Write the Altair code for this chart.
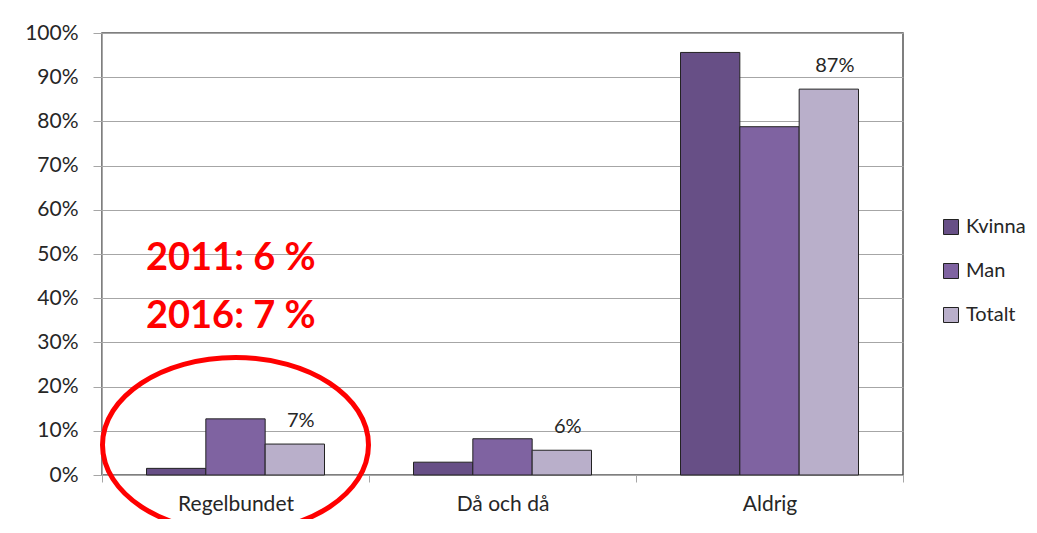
import altair as alt
import pandas as pd

categories = ["Regelbundet", "Då och då", "Aldrig"]
series = ["Kvinna", "Man", "Totalt"]
kvinna = [0.015, 0.029, 0.956]
man = [0.127, 0.082, 0.788]
totalt = [0.070, 0.056, 0.873]
colors = ["#674F86", "#7F63A1", "#B9AFCA"]
y_ticks = [0, 0.1, 0.2, 0.3, 0.4, 0.5, 0.6, 0.7, 0.8, 0.9, 1.0]

note_texts = ["2011: 6 %", "2016: 7 %"]
note_y = [0.463, 0.332]
circle_cat = ["Regelbundet"]
circle_y = [0.068]

rows = []
for s, vals in zip(series, [kvinna, man, totalt]):
    for c, v in zip(categories, vals):
        rows.append({"cat": c, "series": s, "value": v})
df = pd.DataFrame(rows)
notes = pd.DataFrame({"cat": ["Regelbundet"] * len(note_texts), "text": note_texts, "value": note_y})
circ = pd.DataFrame({"cat": circle_cat, "value": circle_y})

x_enc = alt.X("cat:N", sort=categories, title=None,
              scale=alt.Scale(paddingInner=0, paddingOuter=0),
              axis=alt.Axis(labelAngle=0, tickBand="extent", tickSize=7,
                            domainColor="#a6a6a6", tickColor="#a6a6a6",
                            labelFontSize=21, labelColor="#262626", labelPadding=11))
xo_enc = alt.XOffset("series:N", sort=series, scale=alt.Scale(paddingInner=0, paddingOuter=0.75))
y_enc = alt.Y("value:Q", title=None, scale=alt.Scale(domain=[0, 1], nice=False),
              axis=alt.Axis(values=y_ticks, format=".0%", grid=True, gridColor="#a6a6a6",
                            domainColor="#a6a6a6", tickColor="#a6a6a6", tickSize=9,
                            labelFontSize=21, labelColor="#262626", labelPadding=15))

bars = alt.Chart(df).mark_bar(stroke="#222222", strokeWidth=1).encode(
    x=x_enc, xOffset=xo_enc, y=y_enc,
    color=alt.Color("series:N", sort=series, title=None,
                    scale=alt.Scale(domain=series, range=colors),
                    legend=alt.Legend(orient="none", legendX=839, legendY=184,
                                      symbolType="square", symbolSize=225,
                                      symbolStrokeColor="#222222", symbolStrokeWidth=1,
                                      labelFontSize=20, labelColor="#262626",
                                      labelOffset=5, rowPadding=24)),
)

labels = alt.Chart(df).transform_filter(alt.datum.series == "Totalt").mark_text(
    baseline="alphabetic", dx=6, dy=-17, fontSize=20, color="#262626"
).encode(x=x_enc, xOffset=xo_enc, y=y_enc, text=alt.Text("value:Q", format=".0%"))

note = alt.Chart(notes).mark_text(
    align="left", baseline="alphabetic", dx=-89.5, fontSize=38, fontWeight="bold", color="#ff0000"
).encode(x=x_enc, y=y_enc, text="text:N")

ellipse = alt.Chart(circ).mark_point(
    shape="M-1,0A1,0.658,0,1,0,1,0A1,0.658,0,1,0,-1,0Z",
    size=70756, filled=False, color="#ff0000", strokeWidth=5, opacity=1
).encode(x=x_enc, y=y_enc)

chart = alt.layer(bars, labels, note, ellipse).properties(
    width=801, height=442,
    padding={"left": 94, "top": 25, "right": 126, "bottom": 44},
    autosize=alt.AutoSizeParams(type="none"),
).configure(font="Lato").configure_view(stroke="#555555", strokeWidth=1.5)

chart.save("out.html", embed_options={"renderer": "svg", "actions": False})
